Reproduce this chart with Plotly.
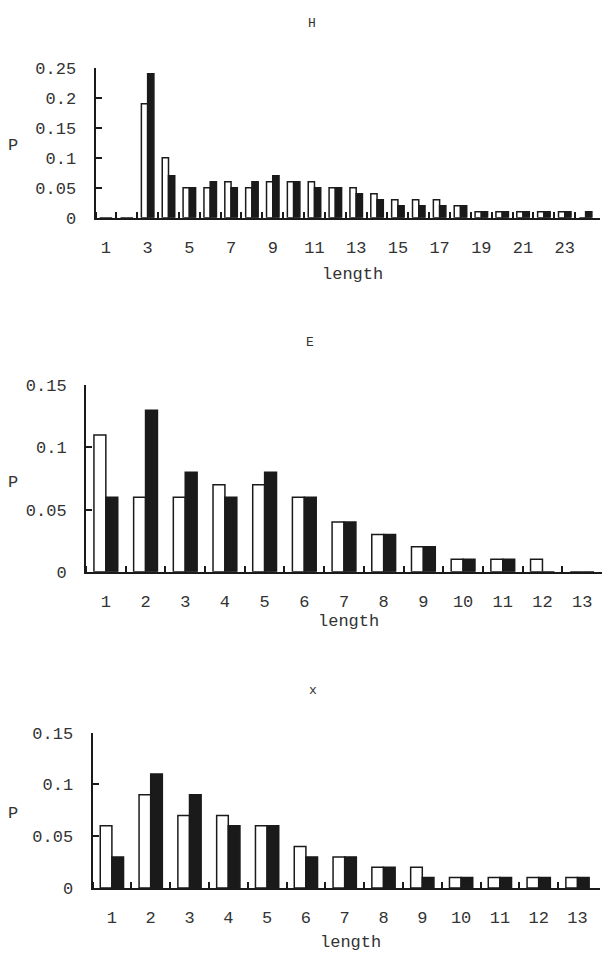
import plotly.graph_objects as go

# ---------------- data ----------------
h_lengths = list(range(1, 25))
h_white = [0, 0, 0.19, 0.10, 0.05, 0.05, 0.06, 0.05, 0.06, 0.06, 0.06, 0.05,
           0.05, 0.04, 0.03, 0.03, 0.03, 0.02, 0.01, 0.01, 0.01, 0.01, 0.01, 0]
h_black = [0, 0, 0.24, 0.07, 0.05, 0.06, 0.05, 0.06, 0.07, 0.06, 0.05, 0.05,
           0.04, 0.03, 0.02, 0.02, 0.02, 0.02, 0.01, 0.01, 0.01, 0.01, 0.01, 0.01]

e_lengths = list(range(1, 14))
e_white = [0.11, 0.06, 0.06, 0.07, 0.07, 0.06, 0.04, 0.03, 0.02, 0.01, 0.01, 0.01, 0]
e_black = [0.06, 0.13, 0.08, 0.06, 0.08, 0.06, 0.04, 0.03, 0.02, 0.01, 0.01, 0, 0]

x_lengths = list(range(1, 14))
x_white = [0.06, 0.09, 0.07, 0.07, 0.06, 0.04, 0.03, 0.02, 0.02, 0.01, 0.01, 0.01, 0.01]
x_black = [0.03, 0.11, 0.09, 0.06, 0.06, 0.03, 0.03, 0.02, 0.01, 0.01, 0.01, 0.01, 0.01]

h_yticks = [0, 0.05, 0.1, 0.15, 0.2, 0.25]
h_yticktext = ["0", "0.05", "0.1", "0.15", "0.2", "0.25"]
ex_yticks = [0, 0.05, 0.1, 0.15]
ex_yticktext = ["0", "0.05", "0.1", "0.15"]
h_xticks = list(range(1, 24, 2))
ex_xticks = list(range(1, 14))

titles = ["H", "E", "x"]

# ---------------- layout helpers ----------------
W, H = 602, 961
FONT = "Courier New, Liberation Mono, monospace"
TXT = "#333333"
INK = "#1a1a1a"
FS = 17


def px(x):
    return x / W


def py(y):
    return 1 - y / H


fig = go.Figure()

panels = [
    (h_lengths, h_white, h_black, "x", "y"),
    (e_lengths, e_white, e_black, "x2", "y2"),
    (x_lengths, x_white, x_black, "x3", "y3"),
]
for cats, w, b, xa, ya in panels:
    fig.add_trace(go.Bar(x=cats, y=w, xaxis=xa, yaxis=ya,
                         marker=dict(color="white", line=dict(color=INK, width=1.5)),
                         showlegend=False))
    fig.add_trace(go.Bar(x=cats, y=b, xaxis=xa, yaxis=ya,
                         marker=dict(color=INK, line=dict(color=INK, width=1.5)),
                         showlegend=False))


def xaxis(dom, rng, ticks, anchor, n):
    return dict(domain=[px(dom[0]), px(dom[1])], range=rng, anchor=anchor,
                tickmode="array", tickvals=ticks, ticktext=[str(t) for t in ticks],
                ticks="", showline=True, linecolor=INK, linewidth=2,
                showgrid=False, zeroline=False, ticklabelstandoff=13,
                tickfont=dict(family=FONT, size=FS, color=TXT),
                minor=dict(tickmode="array", tickvals=[k + 0.5 for k in range(n)],
                           ticks="inside", ticklen=6, tickwidth=1.5, tickcolor=INK,
                           showgrid=False))


def yaxis(dom, rng, ticks, text, anchor):
    return dict(domain=[py(dom[0]), py(dom[1])], range=rng, anchor=anchor,
                tickmode="array", tickvals=ticks, ticktext=text,
                ticks="inside", ticklen=6, tickwidth=1.5, tickcolor=INK,
                showline=True, linecolor=INK, linewidth=2,
                showgrid=False, zeroline=False, ticklabelstandoff=14,
                tickfont=dict(family=FONT, size=FS, color=TXT))


fig.update_layout(
    width=W, height=H, margin=dict(l=0, r=0, t=0, b=0),
    paper_bgcolor="white", plot_bgcolor="white",
    barmode="group", bargap=0.4, bargroupgap=0,
    xaxis=xaxis((95.5, 600), [0.5, 24.69], h_xticks, "y", 24),
    yaxis=yaxis((214, 61), [0, 0.25], h_yticks, h_yticktext, "x"),
    xaxis2=xaxis((86, 602), [0.5, 13.5], ex_xticks, "y2", 13),
    yaxis2=yaxis((575, 385), [0, 0.15], ex_yticks, ex_yticktext, "x2"),
    xaxis3=xaxis((92.5, 600), [0.5, 13.58], ex_xticks, "y3", 13),
    yaxis3=yaxis((897.7, 739.3), [0, 0.15], ex_yticks, ex_yticktext, "x3"),
)

ann = []
for t, (ax, ay) in zip(titles, [(312, 16), (310, 341), (313, 696)]):
    ann.append(dict(text=t, x=px(ax), y=py(ay), size=13))
for ay in [140, 484, 822]:
    ann.append(dict(text="P", x=px(13), y=py(ay), size=FS))
for ax, ay in [(352.7, 272), (348, 626), (350, 953)]:
    ann.append(dict(text="length", x=px(ax), y=py(ay), size=FS))

for a in ann:
    fig.add_annotation(text=a["text"], x=a["x"], y=a["y"], xref="paper", yref="paper",
                       xanchor="center", yanchor="middle", showarrow=False,
                       font=dict(family=FONT, size=a["size"], color=TXT))

fig.write_html(
    "out.html",
    config={"displayModeBar": False},
    post_script="document.body.style.margin='0';document.body.style.overflow='hidden';",
)
